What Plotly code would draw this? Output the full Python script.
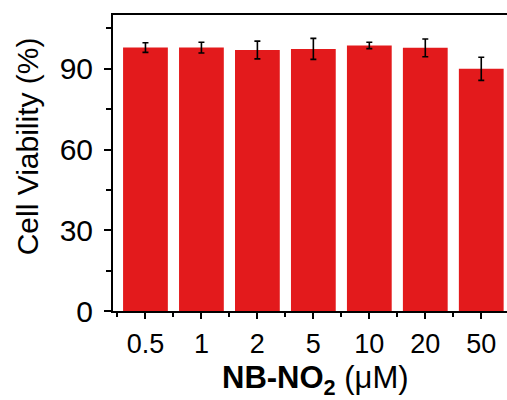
import plotly.graph_objects as go

categories = ["0.5", "1", "2", "5", "10", "20", "50"]
viability = [97.9, 97.9, 97.0, 97.4, 98.7, 97.8, 90.0]
errors = [1.8, 2.0, 3.3, 3.9, 1.2, 3.3, 4.3]

FONT = "Liberation Sans, Arial, sans-serif"
positions = list(range(len(categories)))

fig = go.Figure()
fig.add_trace(go.Bar(
    x=positions, y=viability, width=0.8,
    marker=dict(color="#E31A1C", line=dict(width=0)),
    error_y=dict(type="data", array=errors, visible=True,
                 color="black", thickness=1.6, width=3),
))

fig.update_layout(
    width=507, height=400,
    margin=dict(l=113, r=0, t=15, b=89),
    paper_bgcolor="white", plot_bgcolor="white",
    showlegend=False,
    font=dict(family=FONT, color="black"),
    xaxis=dict(
        range=[-0.58, 6.46], tickmode="array", tickvals=positions, ticktext=categories,
        showline=True, linecolor="black", linewidth=2, mirror=True,
        ticks="outside", ticklen=6, tickwidth=1.5, tickcolor="black",
        tickfont=dict(size=27, family=FONT),
        minor=dict(tickmode="array", tickvals=[p - 0.5 for p in positions] + [6.5],
                   ticks="outside", ticklen=4, tickwidth=1.5, tickcolor="black"),
        showgrid=False, zeroline=False,
        ticklabelstandoff=2,
    ),
    yaxis=dict(
        range=[0, 110], tickmode="linear", tick0=0, dtick=30,
        showline=True, linecolor="black", linewidth=2,
        ticks="outside", ticklen=7, tickwidth=1.5, tickcolor="black",
        tickfont=dict(size=30, family=FONT),
        minor=dict(dtick=15, tick0=0, ticks="outside", ticklen=5, tickwidth=1.5, tickcolor="black"),
        showgrid=False, zeroline=False,
        ticklabelstandoff=5,
    ),
    annotations=[
        dict(text="Cell Viability (%)", xref="paper", yref="paper",
             x=-0.216, y=0.556, xanchor="center", yanchor="middle",
             textangle=-90, showarrow=False, font=dict(size=30, family=FONT)),
        dict(text="<b>NB-NO<sub>2</sub></b> (μM)", xref="paper", yref="paper",
             x=0.513, y=-0.232, xanchor="center", yanchor="middle",
             showarrow=False, font=dict(size=31, family=FONT)),
    ],
)

fig.write_html("out.html")
